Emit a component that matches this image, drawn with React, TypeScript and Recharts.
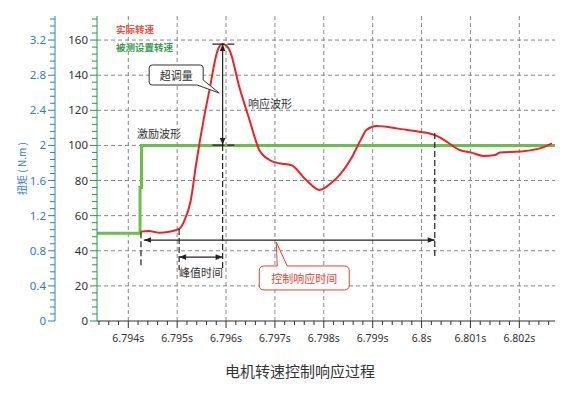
import React from "react";
import {
  LineChart,
  Line,
  XAxis,
  YAxis,
  CartesianGrid,
  ReferenceLine,
  ReferenceDot
} from "recharts";

// 被测设置转速 (step input)
const setTime = [6.79336, 6.79424, 6.79424, 6.79427, 6.79427, 6.80273];
const setSpeed = [50, 50, 76, 76, 100, 100];

// 实际转速 (response)
const actualTime = [
  6.79425, 6.79442, 6.79463, 6.79483, 6.79504, 6.79518, 6.79528, 6.79538,
  6.79555, 6.79566, 6.79583, 6.79593, 6.79607, 6.79627, 6.79648, 6.79668,
  6.79689, 6.79709, 6.79733, 6.79764, 6.79791, 6.79818, 6.79832, 6.79856,
  6.79877, 6.79887, 6.79908, 6.79949, 6.79983, 6.8001, 6.80031, 6.80051,
  6.80078, 6.80102, 6.80126, 6.8015, 6.8016, 6.80201, 6.80242, 6.80267
];
const actualSpeed = [
  50.9, 51.2, 50.3, 50.8, 52.4, 59.4, 68.9, 88, 116, 131.5, 154.3, 157.7,
  154.3, 133.4, 114.5, 97.4, 91.7, 89.8, 88.8, 80.3, 74.6, 79.3, 83.1, 92.6,
  104, 108.8, 111, 109.7, 108.3, 107.2, 105.4, 102.2, 97.4, 95.9, 94, 94.5,
  95.9, 96.5, 98.3, 101.2
];

const xMajorTicks = [6.794, 6.795, 6.796, 6.797, 6.798, 6.799, 6.8, 6.801, 6.802];
const speedMajorTicks = [0, 20, 40, 60, 80, 100, 120, 140, 160];
const torqueMajorTicks = [0, 0.4, 0.8, 1.2, 1.6, 2, 2.4, 2.8, 3.2];

const xDomain = [6.79336, 6.80273];
const speedDomain = [0, 173.7];
const torqueDomain = [0, 3.474];

// annotation anchors (data coordinates)
const guideTime = [6.79426, 6.79504, 6.79593, 6.80027];
const guideFrom = [50.5, 52.4, 100.2, 107];
const guideTo = [30.2, 29, 29, 37];
const peakTime = 6.79593;
const peakSpeed = 157.7;
const targetSpeed = 100.2;
const responseArrow = { from: 6.79432, to: 6.80027, v: 46.1 };
const peakArrow = { from: 6.79504, to: 6.79593, v: 36.4 };

const setRows = setTime.map((t, i) => ({ t, v: setSpeed[i] }));
const actualRows = actualTime.map((t, i) => ({ t, v: actualSpeed[i] }));

const minorX: number[] = [];
for (let i = 0; i <= 46; i++) minorX.push(+(6.7934 + i * 0.0002).toFixed(5));
const minorSpeed: number[] = [];
for (let i = 0; i <= 43; i++) minorSpeed.push(i * 4);
const minorTorque: number[] = [];
for (let i = 0; i <= 43; i++) minorTorque.push(+(i * 0.08).toFixed(2));

const isMajor = (v: number, list: number[]) => list.some((m) => Math.abs(m - v) < 1e-7);

const CJK = "'Noto Sans CJK SC', 'Noto Sans', sans-serif";
const NUM = "'Noto Sans', 'Open Sans', sans-serif";
const GREEN_AXIS = "#1f9a4c";
const BLUE = "#2f7cd0";
const INK = "#222";

const XTick = (p: any) => {
  const major = isMajor(p.payload.value, xMajorTicks);
  return (
    <g>
      <line x1={p.x} x2={p.x} y1={p.y} y2={p.y + (major ? 7 : 4)} stroke="#333" />
      {major && (
        <text x={p.x} y={p.y + 21} textAnchor="middle" fontSize={10.5} fill="#333" fontFamily={NUM}>
          {String(p.payload.value) + "s"}
        </text>
      )}
    </g>
  );
};

const makeYTick = (majors: number[], color: string, textColor: string) => (p: any) => {
  const major = isMajor(p.payload.value, majors);
  return (
    <g>
      <line x1={p.x} x2={p.x - (major ? 7 : 5)} y1={p.y} y2={p.y} stroke={color} />
      {major && (
        <text x={p.x - 9} y={p.y + 4} textAnchor="end" fontSize={11.5} fill={textColor} fontFamily={NUM}>
          {String(p.payload.value)}
        </text>
      )}
    </g>
  );
};

const arrowLine = (p: any) => (
  <line x1={p.x1} y1={p.y1} x2={p.x2} y2={p.y2} stroke={INK} strokeWidth={1.2}
    markerStart="url(#arrowHead)" markerEnd="url(#arrowHead)" />
);

const label = (text: string, color = "#333", size = 11) => (p: any) => (
  <text x={p.cx} y={p.cy} textAnchor="middle" dominantBaseline="central" fontSize={size}
    fill={color} fontFamily={CJK}>
    {text}
  </text>
);

// callout "超调量": anchored at box centre
const overshootCallout = (p: any) => {
  const x = p.cx, y = p.cy;
  const d = `M${x - 24},${y - 10} H${x + 24} Q${x + 27},${y - 10} ${x + 27},${y - 7} V${y + 5}
    L${x + 43},${y + 18} L${x + 21},${y + 10} H${x - 24} Q${x - 27},${y + 10} ${x - 27},${y + 7}
    V${y - 7} Q${x - 27},${y - 10} ${x - 24},${y - 10} Z`;
  return (
    <g>
      <path d={d} fill="#fff" stroke="#333" strokeWidth={1} />
      <text x={x} y={y} textAnchor="middle" dominantBaseline="central" fontSize={11}
        fill="#333" fontFamily={CJK}>超调量</text>
    </g>
  );
};

// callout "控制响应时间"
const responseCallout = (p: any) => {
  const x = p.cx, y = p.cy;
  const d = `M${x - 40},${y - 12} H${x - 27} L${x - 28},${y - 36} L${x - 17},${y - 12} H${x + 40}
    Q${x + 45},${y - 12} ${x + 45},${y - 7} V${y + 7} Q${x + 45},${y + 12} ${x + 40},${y + 12}
    H${x - 40} Q${x - 45},${y + 12} ${x - 45},${y + 7} V${y - 7} Q${x - 45},${y - 12} ${x - 40},${y - 12} Z`;
  return (
    <g>
      <path d={d} fill="#fff" stroke="#e8402f" strokeWidth={1} />
      <text x={x} y={y} textAnchor="middle" dominantBaseline="central" fontSize={11}
        fill="#e8402f" fontFamily={CJK}>控制响应时间</text>
    </g>
  );
};

export default function App() {
  return (
    <div style={{ position: "relative", width: 586, height: 395, background: "#fff" }}>
      <style>{"body{margin:0}"}</style>
      <svg width={0} height={0} style={{ position: "absolute" }}>
        <defs>
          <marker id="arrowHead" viewBox="0 0 10 10" refX="10" refY="5" markerWidth="9"
            markerHeight="7" orient="auto-start-reverse" markerUnits="userSpaceOnUse">
            <path d="M0,1 L10,5 L0,9 Z" fill={INK} />
          </marker>
        </defs>
      </svg>
      <LineChart width={586} height={395} margin={{ top: 16, right: 31, bottom: 0, left: 0 }}>
        <CartesianGrid
          stroke="#888"
          strokeDasharray="4 3"
          horizontalValues={speedMajorTicks.slice(1)}
          verticalValues={xMajorTicks}
        />
        <XAxis
          dataKey="t"
          type="number"
          domain={xDomain}
          allowDataOverflow
          ticks={minorX}
          interval={0}
          tickSize={0}
          tickMargin={0}
          tickLine={false}
          tick={XTick}
          height={74}
          axisLine={{ stroke: "#333" }}
          label={{
            value: "电机转速控制响应过程",
            position: "insideBottom",
            offset: 18,
            dx: -26,
            fontSize: 15,
            fill: "#333",
            fontFamily: CJK
          }}
        />
        <YAxis
          dataKey="v"
          type="number"
          domain={speedDomain}
          allowDataOverflow
          ticks={minorSpeed}
          interval={0}
          width={42}
          tickSize={0}
          tickMargin={0}
          tickLine={false}
          tick={makeYTick(speedMajorTicks, GREEN_AXIS, "#333")}
          axisLine={{ stroke: GREEN_AXIS }}
        />
        <YAxis
          yAxisId="torque"
          type="number"
          domain={torqueDomain}
          allowDataOverflow
          ticks={minorTorque}
          interval={0}
          width={55}
          tickSize={0}
          tickMargin={0}
          tickLine={false}
          tick={makeYTick(torqueMajorTicks, BLUE, BLUE)}
          axisLine={{ stroke: BLUE }}
          label={{
            value: "扭矩 ( N.m )",
            angle: -90,
            position: "center",
            dx: -5,
            fontSize: 10,
            fill: BLUE,
            fontFamily: CJK
          }}
        />
        <Line data={setRows} dataKey="v" type="linear" stroke="#6abf4b" strokeWidth={3}
          dot={false} isAnimationActive={false} />
        <Line data={actualRows} dataKey="v" type="monotone" stroke="#ee2222" strokeWidth={2}
          dot={false} isAnimationActive={false} />

        {guideTime.map((t, i) => (
          <ReferenceLine key={"g" + i}
            segment={[{ x: t, y: guideFrom[i] }, { x: t, y: guideTo[i] }]}
            stroke={INK} strokeWidth={1.2} strokeDasharray="6 3" />
        ))}
        <ReferenceLine
          segment={[{ x: peakTime - 0.00021, y: peakSpeed }, { x: peakTime + 0.00024, y: peakSpeed }]}
          stroke={INK} strokeWidth={1.2} strokeDasharray="12 3" />
        <ReferenceLine
          segment={[{ x: peakTime - 0.00021, y: targetSpeed }, { x: peakTime + 0.00024, y: targetSpeed }]}
          stroke={INK} strokeWidth={1.2} strokeDasharray="12 3" />
        <ReferenceLine
          segment={[{ x: peakTime, y: peakSpeed }, { x: peakTime, y: targetSpeed }]}
          shape={arrowLine} />
        <ReferenceLine
          segment={[{ x: responseArrow.from, y: responseArrow.v }, { x: responseArrow.to, y: responseArrow.v }]}
          shape={arrowLine} />
        <ReferenceLine
          segment={[{ x: peakArrow.from, y: peakArrow.v }, { x: peakArrow.to, y: peakArrow.v }]}
          shape={arrowLine} />

        <ReferenceDot x={6.79463} y={107} r={0} shape={label("激励波形")} />
        <ReferenceDot x={6.7969} y={124.3} r={0} shape={label("响应波形")} />
        <ReferenceDot x={6.79549} y={28.1} r={0} shape={label("峰值时间")} />
        <ReferenceDot x={6.79498} y={140.1} r={0} shape={overshootCallout} />
        <ReferenceDot x={6.7976} y={24.5} r={0} shape={responseCallout} />
      </LineChart>
      <div style={{ position: "absolute", left: 116, top: 20, fontFamily: CJK, fontSize: 9.5, fontWeight: 700, lineHeight: "18px" }}>
        <div style={{ color: "#f04a3a" }}>实际转速</div>
        <div style={{ color: "#3a9a50" }}>被测设置转速</div>
      </div>
    </div>
  );
}
